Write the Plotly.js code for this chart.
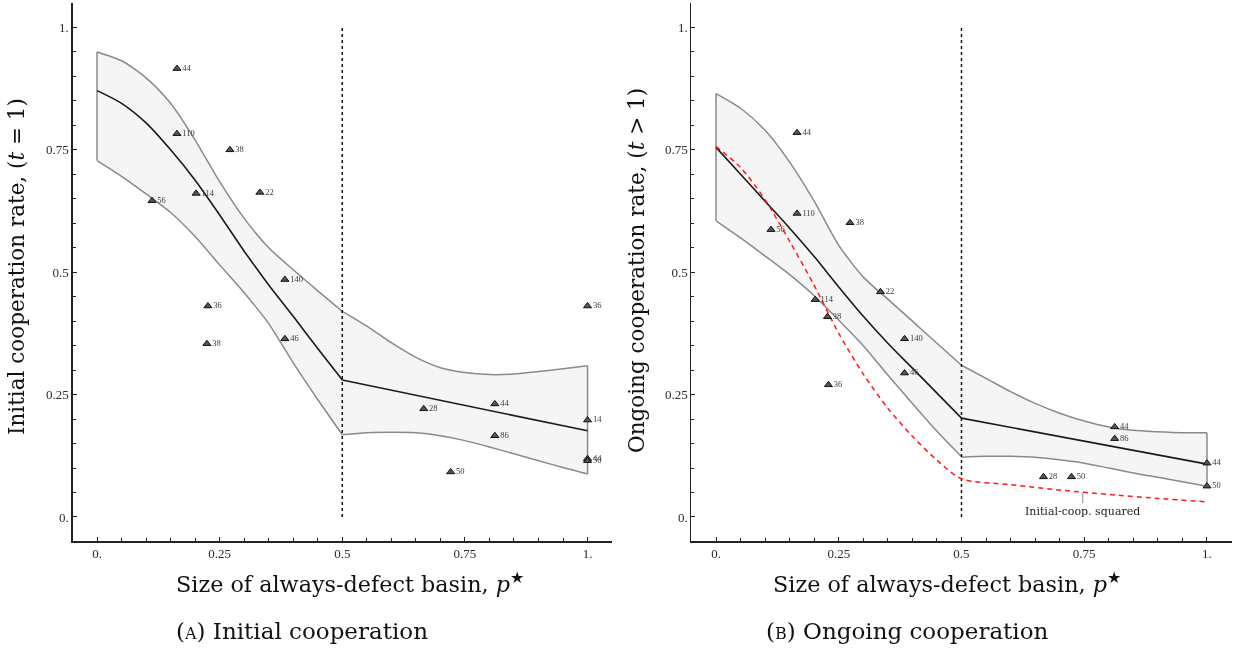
<!DOCTYPE html>
<html>
<head>
<meta charset="utf-8">
<script src="https://cdn.plot.ly/plotly-3.0.1.min.js"></script>
<style>html,body{margin:0;padding:0;background:#fff;} #chart{width:1233px;height:648px;will-change:transform;}</style>
</head>
<body>
<div id="chart"></div>
<script>
// ---- data ----
const fitX1 = [0, 0.05, 0.1, 0.15, 0.2, 0.25, 0.3, 0.35, 0.4, 0.45, 0.5];
const fitX2 = [0.5, 0.55, 0.6, 0.65, 0.7, 0.75, 0.8, 0.85, 0.9, 0.95, 1];
const lineX2 = [0.5, 1];

// Panel A: initial cooperation
const initMean1 = [0.871, 0.845, 0.805, 0.75, 0.688, 0.617, 0.543, 0.474, 0.41, 0.344, 0.28];
const initMean2 = [0.28, 0.176];
const initUpper1 = [0.95, 0.932, 0.897, 0.845, 0.77, 0.685, 0.61, 0.55, 0.505, 0.462, 0.42];
const initLower1 = [0.728, 0.696, 0.66, 0.622, 0.573, 0.515, 0.458, 0.395, 0.315, 0.24, 0.168];
const initUpper2 = [0.42, 0.39, 0.356, 0.326, 0.305, 0.295, 0.291, 0.292, 0.297, 0.303, 0.309];
const initLower2 = [0.168, 0.172, 0.173, 0.172, 0.166, 0.156, 0.143, 0.129, 0.115, 0.101, 0.088];

const initX = [0.163, 0.163, 0.271, 0.332, 0.202, 0.112, 0.383, 0.226, 0.383, 0.224, 1.0, 0.666, 0.811, 1.0, 0.811, 0.721, 1.0, 1.0];
const initY = [0.916, 0.783, 0.750, 0.663, 0.661, 0.646, 0.485, 0.431, 0.364, 0.354, 0.431, 0.221, 0.231, 0.198, 0.166, 0.092, 0.119, 0.115];
const initN = [44, 110, 38, 22, 114, 56, 140, 36, 46, 38, 36, 28, 44, 14, 86, 50, 44, 50];

// Panel B: ongoing cooperation
const ongMean1 = [0.755, 0.70, 0.645, 0.59, 0.532, 0.47, 0.41, 0.355, 0.304, 0.253, 0.202];
const ongMean2 = [0.202, 0.108];
const ongUpper1 = [0.865, 0.835, 0.79, 0.725, 0.645, 0.555, 0.49, 0.445, 0.40, 0.355, 0.31];
const ongLower1 = [0.605, 0.57, 0.533, 0.495, 0.452, 0.402, 0.35, 0.29, 0.232, 0.175, 0.123];
const ongUpper2 = [0.31, 0.283, 0.256, 0.232, 0.212, 0.196, 0.184, 0.177, 0.174, 0.172, 0.172];
const ongLower2 = [0.122, 0.124, 0.124, 0.122, 0.117, 0.11, 0.10, 0.09, 0.081, 0.072, 0.063];

const sqX = [0, 0.05, 0.1, 0.15, 0.2, 0.25, 0.3, 0.35, 0.4, 0.45, 0.5, 0.6, 0.7, 0.8, 0.9, 1];
const sqY = [0.757, 0.714, 0.648, 0.563, 0.473, 0.375, 0.292, 0.222, 0.165, 0.116, 0.078, 0.066, 0.055, 0.046, 0.038, 0.031];

const ongX = [0.165, 0.165, 0.112, 0.273, 0.335, 0.202, 0.227, 0.384, 0.384, 0.229, 0.812, 0.812, 1.0, 1.0, 0.667, 0.724];
const ongY = [0.785, 0.620, 0.587, 0.601, 0.460, 0.444, 0.409, 0.364, 0.294, 0.270, 0.184, 0.160, 0.110, 0.063, 0.082, 0.082];
const ongN = [44, 110, 56, 38, 22, 114, 38, 140, 46, 36, 44, 86, 44, 50, 28, 50];

const cutoffX = [0.5, 0.5];
const cutoffY = [0, 1];

const tickVals = [0, 0.25, 0.5, 0.75, 1];
const tickText = ['0.', '0.25', '0.5', '0.75', '1.'];

// ---- build ----
const SERIF = '"Liberation Serif", "DejaVu Serif", serif';
const TITLE_SERIF = '"DejaVu Serif", "Liberation Serif", serif';
const EDGE = {color: '#8a8a8a', width: 1.5};

function segPair(xs, lo, up, xa, ya) {
  return [
    {x: xs, y: lo, xaxis: xa, yaxis: ya, mode: 'lines',
      line: Object.assign({shape: 'spline', smoothing: 0.7}, EDGE), hoverinfo: 'skip'},
    {x: xs, y: up, xaxis: xa, yaxis: ya, mode: 'lines', fill: 'tonexty', fillcolor: '#f5f5f5',
      line: Object.assign({shape: 'spline', smoothing: 0.7}, EDGE), hoverinfo: 'skip'}
  ];
}
function bandTraces(u1, l1, u2, l2, xa, ya) {
  const xEnd = fitX2[fitX2.length - 1];
  return [].concat(
    segPair(fitX1, l1, u1, xa, ya),
    segPair(fitX2, l2, u2, xa, ya),
    [{x: [fitX1[0], fitX1[0]], y: [l1[0], u1[0]], xaxis: xa, yaxis: ya, mode: 'lines', line: EDGE},
     {x: [xEnd, xEnd], y: [l2[l2.length - 1], u2[u2.length - 1]], xaxis: xa, yaxis: ya, mode: 'lines', line: EDGE}]
  );
}
function meanTraces(m1, m2, xa, ya) {
  return [
    {x: fitX1, y: m1, xaxis: xa, yaxis: ya, mode: 'lines',
      line: {color: '#1a1a1a', width: 1.6, shape: 'spline', smoothing: 0.8}},
    {x: lineX2, y: m2, xaxis: xa, yaxis: ya, mode: 'lines', line: {color: '#1a1a1a', width: 1.6}}
  ];
}
function cutoff(xa, ya) {
  return {x: cutoffX, y: cutoffY, xaxis: xa, yaxis: ya, mode: 'lines',
    line: {color: '#111', width: 1.5, dash: 'dot'}};
}
function pts(xs, ys, ns, xa, ya) {
  return {x: xs, y: ys, text: ns.map(String), xaxis: xa, yaxis: ya, mode: 'markers+text',
    textposition: 'middle right',
    textfont: {family: SERIF, size: 8.5, color: '#3a3a3a'},
    marker: {symbol: 'triangle-up', size: 7, color: '#555', line: {color: '#111', width: 1}}};
}

const traces = [].concat(
  bandTraces(initUpper1, initLower1, initUpper2, initLower2, 'x', 'y'),
  [cutoff('x', 'y')],
  meanTraces(initMean1, initMean2, 'x', 'y'),
  [pts(initX, initY, initN, 'x', 'y')],
  bandTraces(ongUpper1, ongLower1, ongUpper2, ongLower2, 'x2', 'y2'),
  [cutoff('x2', 'y2')],
  meanTraces(ongMean1, ongMean2, 'x2', 'y2'),
  [{x: sqX, y: sqY, xaxis: 'x2', yaxis: 'y2', mode: 'lines',
    line: {color: '#ff1a1a', width: 1.5, dash: '5px,4px', shape: 'spline', smoothing: 0.8}}],
  [pts(ongX, ongY, ongN, 'x2', 'y2')]
);

function axisBase() {
  return {range: [-0.05, 1.05], tickmode: 'array',
    tickvals: tickVals, ticktext: tickText, ticks: 'inside', ticklen: 4, tickwidth: 1,
    tickcolor: '#222', showline: true, linecolor: '#222', linewidth: 1.2, showgrid: false,
    zeroline: false, tickfont: {family: SERIF, size: 13, color: '#2a2a2a'},
    minor: {dtick: 0.05, tick0: 0, ticks: 'inside', ticklen: 3, tickcolor: '#222', showgrid: false}};
}
function xAxis(domain, anchor) {
  return Object.assign(axisBase(), {domain: domain, anchor: anchor});
}
function yAxis(anchor) {
  return Object.assign(axisBase(), {domain: [0.1644, 0.9954], anchor: anchor});
}

const W = 1233, H = 648;
function ann(text, px, py, size, angle) {
  return {text: text, xref: 'paper', yref: 'paper', x: px / W, y: 1 - py / H,
    xanchor: 'center', yanchor: 'middle', showarrow: false, textangle: angle || 0,
    font: {family: TITLE_SERIF, size: size, color: '#111'}};
}

const layout = {
  width: W, height: H, margin: {l: 0, r: 0, t: 0, b: 0},
  paper_bgcolor: '#fff', plot_bgcolor: '#fff', showlegend: false,
  xaxis: xAxis([0.0588, 0.4964], 'y'),
  yaxis: yAxis('x'),
  xaxis2: xAxis([0.5608, 0.9988], 'y2'),
  yaxis2: yAxis('x2'),
  annotations: [
    ann('Initial cooperation rate, (<i>t</i> = 1)', 17, 267, 21.5, -90),
    ann('Ongoing cooperation rate, (<i>t</i> &gt; 1)', 636, 271, 21.5, -90),
    ann('Size of always-defect basin, <i>p</i><sup>★</sup>', 350, 583, 22.3),
    ann('Size of always-defect basin, <i>p</i><sup>★</sup>', 947, 583, 22.3),
    ann('(<span style="font-size:16px">A</span>) Initial cooperation', 302, 631, 23),
    ann('(<span style="font-size:16px">B</span>) Ongoing cooperation', 908, 631, 23),
    {text: 'Initial-coop. squared', xref: 'x2', yref: 'y2', x: 0.747, y: 0.049,
      ax: 0, ay: 10, showarrow: true, arrowhead: 0, arrowwidth: 1, arrowcolor: '#888',
      standoff: 0, font: {family: TITLE_SERIF, size: 11, color: '#222'}, yanchor: 'top'}
  ]
};

Plotly.newPlot('chart', traces, layout, {displayModeBar: false, staticPlot: true});
</script>
</body>
</html>
